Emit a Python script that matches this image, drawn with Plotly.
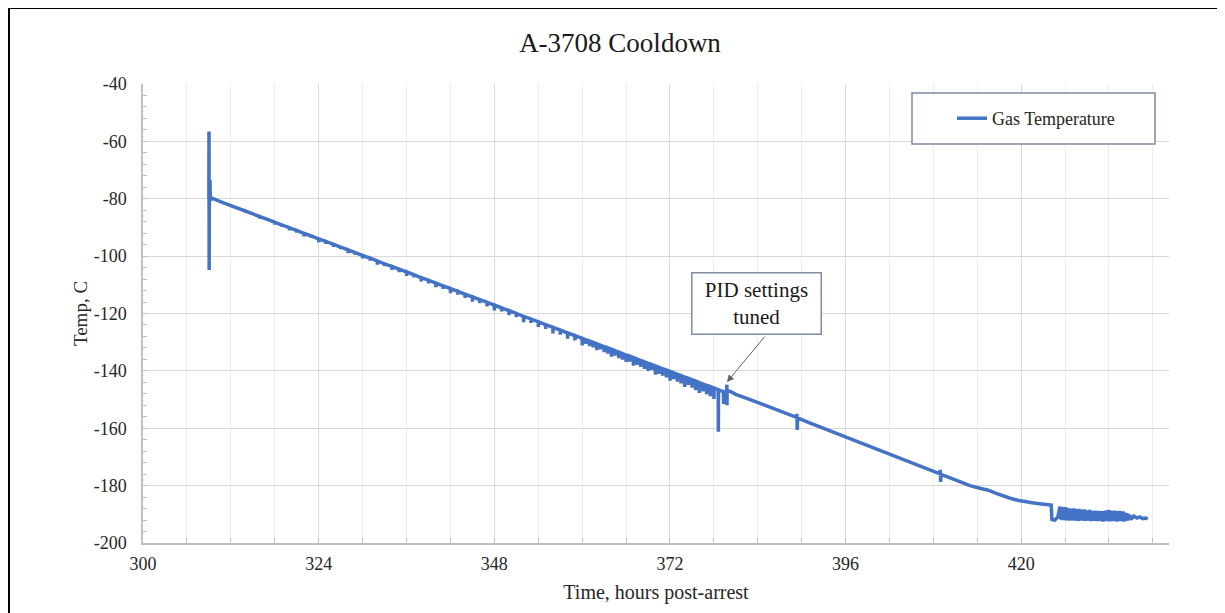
import plotly.graph_objects as go

# ---- data ----
time_h = [
    309.0, 309.02, 309.04, 309.06, 309.15, 309.2, 309.4,
    310.0, 311.0, 312.0, 313.0,
    314.0, 314.02, 314.04, 315.0, 315.02, 315.04, 316.0, 316.02, 316.04,
    317.0, 317.02, 317.04, 318.0, 318.02, 318.04, 319.0, 319.02, 319.04,
    320.0, 320.02, 320.04, 321.0, 321.02, 321.04, 322.0, 322.02, 322.04,
    323.0, 323.02, 323.04, 324.0, 324.02, 324.04, 325.0, 325.02, 325.04,
    326.0, 326.02, 326.04, 327.0, 327.02, 327.04, 328.0, 328.02, 328.04,
    329.0, 329.02, 329.04, 330.0, 330.02, 330.04, 331.0, 331.02, 331.04,
    332.0, 332.02, 332.04, 333.0, 333.02, 333.04, 334.0, 334.02, 334.04,
    335.0, 335.02, 335.04, 336.0, 336.02, 336.04, 337.0, 337.02, 337.04,
    338.0, 338.02, 338.04, 339.0, 339.02, 339.04, 340.0, 340.02, 340.04,
    341.0, 341.02, 341.04, 342.0, 342.02, 342.04, 343.0, 343.02, 343.04,
    344.0, 344.02, 344.04, 345.0, 345.02, 345.04, 346.0, 346.02, 346.04,
    347.0, 347.02, 347.04, 348.0, 348.02, 348.04, 349.0, 349.02, 349.04,
    350.0, 350.02, 350.04, 351.0, 351.02, 351.04, 352.0, 352.02, 352.04,
    353.0, 353.02, 353.04, 354.0, 354.02, 354.04, 355.0, 355.02, 355.04,
    356.0, 356.02, 356.04, 357.0, 357.02, 357.04, 358.0, 358.02, 358.04,
    359.0, 359.02, 359.04, 360.0, 360.02, 360.04, 360.5, 360.52, 360.54,
    361.0, 361.02, 361.04, 361.5, 361.52, 361.54, 362.0, 362.02, 362.04,
    362.5, 362.52, 362.54, 363.0, 363.02, 363.04, 363.5, 363.52, 363.54,
    364.0, 364.02, 364.04, 364.5, 364.52, 364.54, 365.0, 365.02, 365.04,
    365.5, 365.52, 365.54, 366.0, 366.02, 366.04, 366.5, 366.52, 366.54,
    367.0, 367.02, 367.04, 367.5, 367.52, 367.54, 368.0, 368.02, 368.04,
    368.5, 368.52, 368.54, 369.0, 369.02, 369.04, 369.5, 369.52, 369.54,
    370.0, 370.02, 370.04, 370.5, 370.52, 370.54, 371.0, 371.02, 371.04,
    371.5, 371.52, 371.54, 372.0, 372.02, 372.04, 372.5, 372.52, 372.54,
    373.0, 373.02, 373.04, 373.5, 373.52, 373.54, 374.0, 374.02, 374.04,
    374.5, 374.52, 374.54, 375.0, 375.02, 375.04, 375.5, 375.52, 375.54,
    376.0, 376.02, 376.04, 376.5, 376.52, 376.54, 377.0, 377.02, 377.04,
    377.5, 377.52, 377.54, 378.0, 378.02, 378.04,
    378.3, 378.6, 378.62, 378.64, 379.0, 379.3, 379.35, 379.4,
    379.75, 379.78, 379.8, 379.82, 380.2,
    381.0, 382.5, 384.0, 385.5, 387.0, 388.5, 389.3, 389.35, 389.4, 389.45,
    391.0, 393.0, 395.0, 397.0, 399.0, 401.0, 403.0, 405.0, 407.0,
    408.9, 408.95, 409.0, 409.05, 411.0, 413.0, 414.5, 415.5, 416.5, 417.5,
    418.5, 419.5, 420.5, 421.5, 422.5, 423.5, 424.1, 424.2, 424.6, 425.0, 425.3,
    425.40, 425.52, 425.64, 425.76, 425.88, 426.00, 426.12, 426.24, 426.36, 426.48,
    426.60, 426.72, 426.84, 426.96, 427.08, 427.20, 427.32, 427.44, 427.56, 427.68,
    427.80, 427.92, 428.04, 428.16, 428.28, 428.40, 428.52, 428.64, 428.76, 428.88,
    429.00, 429.12, 429.24, 429.36, 429.48, 429.60, 429.72, 429.84, 429.96, 430.08,
    430.20, 430.32, 430.44, 430.56, 430.68, 430.80, 430.92, 431.04, 431.16, 431.28,
    431.40, 431.52, 431.64, 431.76, 431.88, 432.00, 432.12, 432.24, 432.36, 432.48,
    432.60, 432.72, 432.84, 432.96, 433.08, 433.20, 433.32, 433.44, 433.56, 433.68,
    433.80, 433.92, 434.04, 434.16, 434.28, 434.40, 434.52, 434.64, 434.76, 434.88,
    435.00,
    435.4, 435.8, 436.2, 436.6, 437.0, 437.3,
]
gas_temp = [
    -80.0, -56.6, -104.8, -80.0, -73.5, -80.5, -79.8,
    -80.5, -81.4, -82.4, -83.4,
    -84.3, -84.9, -84.3, -85.3, -85.7, -85.3, -86.3, -87.0, -86.3,
    -87.2, -87.7, -87.2, -88.2, -89.0, -88.2, -89.2, -89.8, -89.2,
    -90.1, -91.0, -90.1, -91.1, -91.8, -91.1, -92.1, -93.1, -92.1,
    -93.0, -93.6, -93.0, -94.0, -95.1, -94.0, -94.9, -95.7, -94.9,
    -95.9, -96.8, -95.9, -96.9, -97.6, -96.9, -97.8, -99.0, -97.8,
    -98.8, -99.6, -98.8, -99.8, -100.8, -99.8, -100.7, -101.6, -100.7,
    -101.7, -103.0, -101.7, -102.7, -103.5, -102.7, -103.6, -104.8, -103.6,
    -104.6, -105.6, -104.6, -105.5, -106.9, -105.5, -106.5, -107.4, -106.5,
    -107.5, -108.8, -107.5, -108.4, -109.5, -108.4, -109.4, -110.8, -109.4,
    -110.4, -111.4, -110.4, -111.3, -112.9, -111.3, -112.3, -113.4, -112.3,
    -113.3, -114.6, -113.3, -114.2, -115.9, -114.2, -115.2, -116.4, -115.2,
    -116.1, -117.5, -116.1, -117.1, -118.9, -117.1, -118.1, -119.3, -118.1,
    -119.0, -120.6, -119.0, -120.0, -121.3, -120.0, -121.0, -123.0, -121.0,
    -121.9, -123.3, -121.9, -122.9, -124.7, -122.9, -123.9, -125.4, -123.9,
    -124.8, -127.0, -124.8, -125.8, -127.4, -125.8, -126.8, -128.8, -126.8,
    -127.7, -129.4, -127.7, -128.7, -131.1, -128.7, -129.2, -130.6, -129.2,
    -129.6, -131.4, -129.6, -130.1, -131.8, -130.1, -130.6, -132.8, -130.6,
    -131.1, -132.5, -131.1, -131.6, -133.5, -131.6, -132.0, -134.0, -132.0,
    -132.5, -135.1, -132.5, -133.0, -134.7, -133.0, -133.5, -135.6, -133.5,
    -134.0, -136.1, -134.0, -134.5, -136.9, -134.5, -134.9, -136.8, -134.9,
    -135.4, -138.2, -135.4, -135.9, -137.9, -135.9, -136.4, -138.6, -136.4,
    -136.9, -139.3, -136.9, -137.4, -140.0, -137.4, -137.8, -139.8, -137.8,
    -138.3, -141.3, -138.3, -138.8, -141.1, -138.8, -139.3, -141.7, -139.3,
    -139.7, -142.3, -139.7, -140.2, -143.4, -140.2, -140.7, -142.9, -140.7,
    -141.2, -143.8, -141.2, -141.7, -144.4, -141.7, -142.2, -145.6, -142.2,
    -142.6, -144.9, -142.6, -143.1, -145.9, -143.1, -143.6, -146.7, -143.6,
    -144.1, -147.7, -144.1, -144.6, -147.2, -144.6, -145.1, -148.1, -145.1,
    -145.5, -148.8, -145.5, -146.0, -149.8, -146.0,
    -146.3, -146.6, -161.2, -146.6, -147.0, -147.2, -151.5, -147.3,
    -147.4, -144.8, -152.0, -147.0, -147.1,
    -148.2, -149.6, -151.0, -152.4, -153.9, -155.4, -156.2, -155.0, -160.6, -156.4,
    -158.0, -160.0, -162.0, -164.0, -166.0, -168.0, -170.0, -172.0, -174.0,
    -175.9, -174.5, -178.7, -176.1, -178.0, -180.0, -181.0, -181.6, -182.6, -183.6,
    -184.4, -185.1, -185.7, -186.0, -186.3, -186.6, -186.8, -191.8, -192.0, -191.0, -187.3,
    -191.8, -187.4, -192.0, -187.6, -191.9, -187.5, -192.1, -187.8, -192.0, -187.9,
    -192.2, -188.0, -191.9, -188.1, -192.1, -187.9, -192.2, -188.2, -192.0, -188.3,
    -192.3, -188.1, -192.1, -188.4, -192.2, -188.5, -192.0, -188.3, -192.3, -188.6,
    -192.2, -188.7, -192.1, -188.5, -192.4, -188.8, -192.2, -188.9, -192.3, -188.7,
    -192.1, -189.0, -192.4, -188.8, -192.3, -189.1, -192.2, -188.9, -192.5, -189.2,
    -192.3, -188.7, -192.4, -188.6, -192.2, -188.5, -192.5, -188.8, -192.3, -189.0,
    -192.4, -188.7, -192.2, -188.9, -192.5, -189.1, -192.3, -188.8, -192.4, -189.3,
    -192.2, -189.0, -192.5, -189.4, -192.3, -189.6, -192.2, -189.9, -192.0, -190.3,
    -191.8,
    -190.6, -191.3, -190.9, -191.5, -191.3, -191.6,
]
series_name = "Gas Temperature"
title_text = "A-3708 Cooldown"
x_title = "Time, hours post-arrest"
y_title = "Temp, C"
y_tick_values = [-200, -180, -160, -140, -120, -100, -80, -60, -40]
y_tick_labels = ["-200", "-180", "-160", "-140", "-120", "-100", "-80", "-60", "-40"]
x_tick_values = [300, 324, 348, 372, 396, 420]
x_tick_labels = ["300", "324", "348", "372", "396", "420"]
note_text = "PID settings<br>tuned"
note_point = (379.8, -143.9)

SERIF = "Liberation Serif, Times New Roman, serif"
OFF = 8  # page body margin
W, H = 1217, 605
L, R, T, B = 135, 56, 76, 70
PW, PH = W - L - R, H - T - B


def px_x(p):
    return (p - OFF - L) / PW


def px_y(p):
    return 1 - (p - OFF - T) / PH


fig = go.Figure()
fig.add_trace(go.Scatter(
    x=time_h, y=gas_temp, mode="lines", name=series_name,
    line=dict(color="#4472C4", width=3.5), showlegend=True,
))

fig.update_layout(
    width=W, height=H,
    margin=dict(l=L, r=R, t=T, b=B),
    paper_bgcolor="white", plot_bgcolor="white",
    font=dict(family=SERIF, size=18, color="#262626"),
    title=dict(text=title_text, x=px_x(620), xref="paper", xanchor="center",
               y=1 - (43 - OFF) / H, yref="container", yanchor="middle",
               font=dict(family=SERIF, size=27, color="#1a1a1a")),
    showlegend=True,
    legend=dict(x=px_x(952), y=px_y(118.5), xanchor="left", yanchor="middle",
                bgcolor="rgba(0,0,0,0)", borderwidth=0,
                font=dict(family=SERIF, size=18, color="#262626")),
    xaxis=dict(range=[300, 440.2], tickvals=x_tick_values, ticktext=x_tick_labels,
               showgrid=True, gridcolor="#d9d9d9", gridwidth=1.3,
               showline=True, linecolor="#bfbfbf", linewidth=1.5,
               ticks="inside", ticklen=5, tickcolor="#bfbfbf",
               zeroline=False, ticklabelstandoff=4,
               minor=dict(dtick=6, tick0=300, showgrid=True, gridcolor="#ededed",
                          gridwidth=1, ticks="inside", ticklen=5, tickcolor="#bfbfbf"),
               title=dict(text=x_title, font=dict(family=SERIF, size=20), standoff=12),
               tickfont=dict(family=SERIF, size=18)),
    yaxis=dict(range=[-200, -40], tickvals=y_tick_values, ticktext=y_tick_labels,
               showgrid=True, gridcolor="#d9d9d9", gridwidth=1.3,
               showline=True, linecolor="#bfbfbf", linewidth=1.5,
               ticks="inside", ticklen=4, tickcolor="#bfbfbf",
               zeroline=False, ticklabelstandoff=11,
               minor=dict(dtick=4, tick0=-200, showgrid=False,
                          ticks="inside", ticklen=4, tickcolor="#bfbfbf"),
               title=dict(text=y_title, font=dict(family=SERIF, size=19), standoff=1),
               tickfont=dict(family=SERIF, size=18)),
)

# legend frame
fig.add_shape(type="rect", xref="paper", yref="paper",
              x0=px_x(912), x1=px_x(1155), y0=px_y(144), y1=px_y(93),
              line=dict(color="#7f8ba0", width=1.5), fillcolor="white", layer="above")
# outer chart border (left and top visible)
fig.add_shape(type="rect", xref="paper", yref="paper",
              x0=px_x(9), x1=px_x(1300), y0=px_y(700), y1=px_y(8),
              line=dict(color="black", width=2), fillcolor="rgba(0,0,0,0)", layer="above")

# annotation box
fig.add_annotation(xref="paper", yref="paper", x=px_x(756.5), y=px_y(303.5),
                   xanchor="center", yanchor="middle", text=note_text,
                   showarrow=False, align="center",
                   font=dict(family=SERIF, size=21, color="#1a1a1a"),
                   bordercolor="#7f8ba0", borderwidth=1.5, bgcolor="white",
                   width=126, height=58)
# arrow
fig.add_annotation(x=note_point[0], y=note_point[1], xref="x", yref="y",
                   text="", showarrow=True, ax=39, ay=-47,
                   arrowhead=2, arrowsize=1.4, arrowwidth=1, arrowcolor="#5a6472")

fig.write_html("out.html")
